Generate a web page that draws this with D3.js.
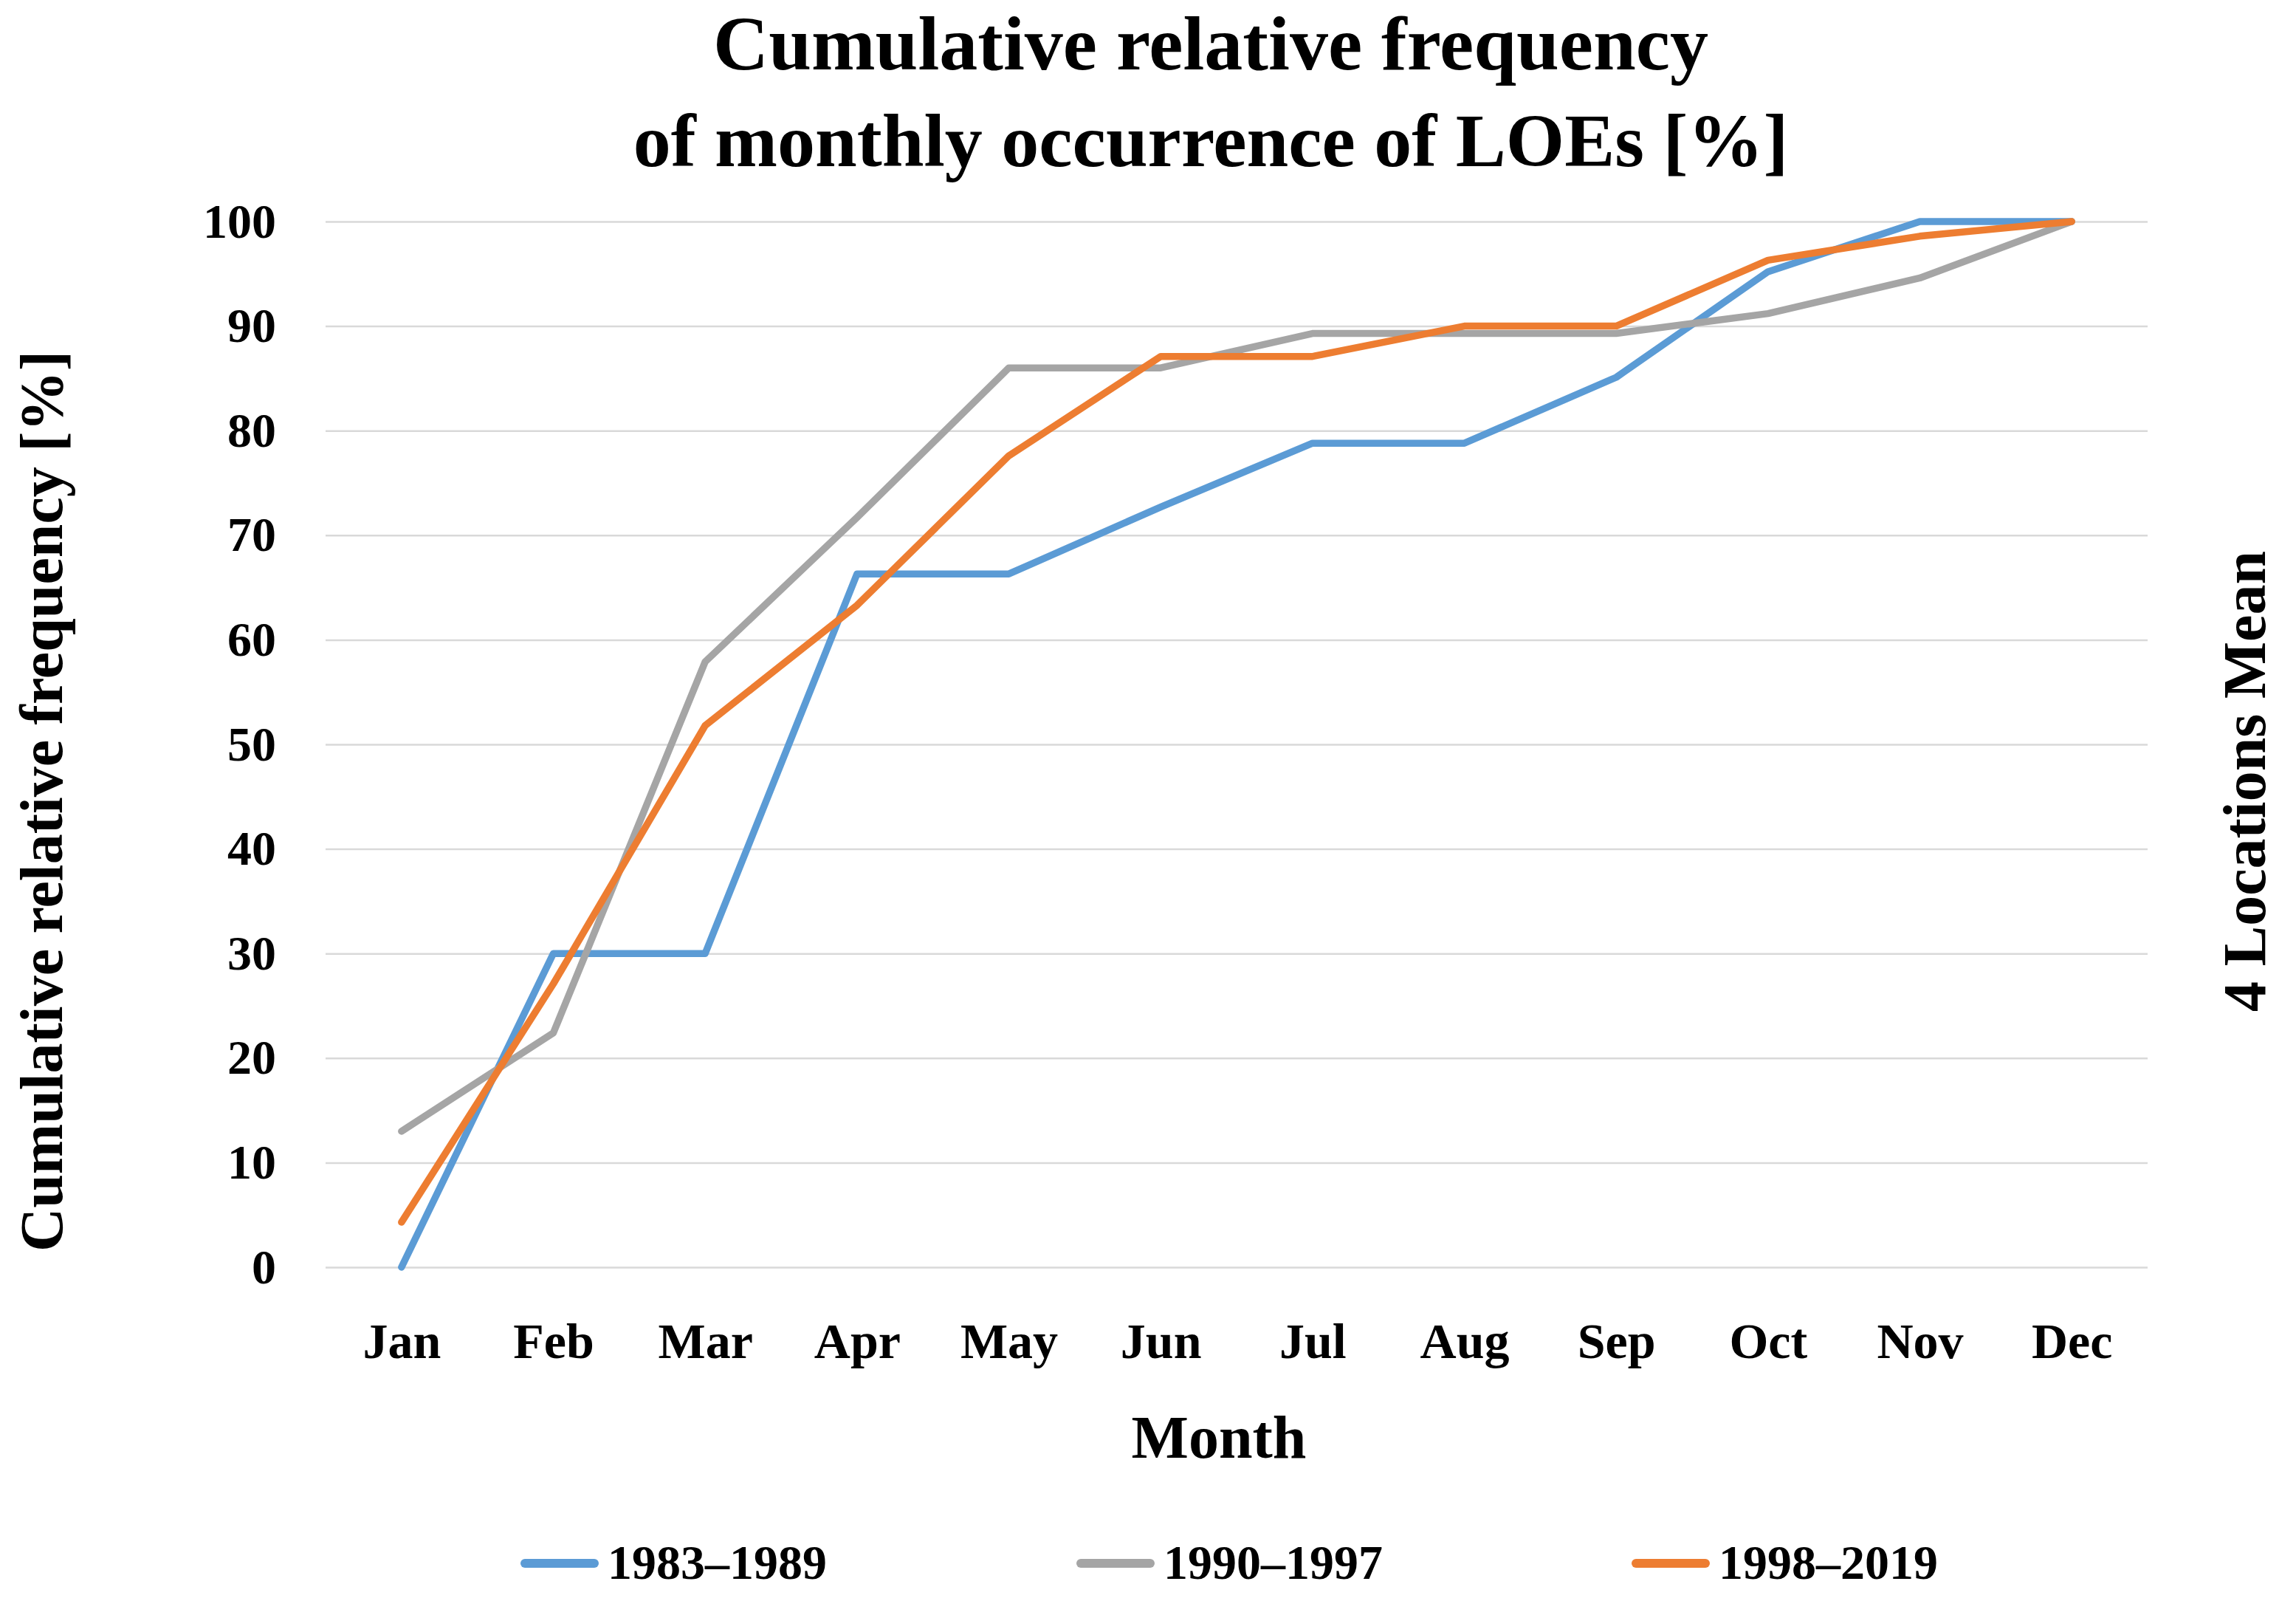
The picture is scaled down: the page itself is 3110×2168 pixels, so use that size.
<!DOCTYPE html>
<html>
<head>
<meta charset="utf-8">
<script src="https://cdn.jsdelivr.net/npm/d3@7"></script>
<style>
  body { margin: 0; background: #fff; overflow: hidden; }
  svg { display: block; }
  text { font-family: "Liberation Serif", "Times New Roman", serif; font-weight: bold; fill: #000; }
</style>
</head>
<body>
<div class="chart"></div>
<script>
// data
var months = ["Jan", "Feb", "Mar", "Apr", "May", "Jun", "Jul", "Aug", "Sep", "Oct", "Nov", "Dec"];
var yTicks = [0, 10, 20, 30, 40, 50, 60, 70, 80, 90, 100];
var seriesNames = ["1983\u20131989", "1990\u20131997", "1998\u20132019"];
var seriesColors = ["#5B9BD5", "#A5A5A5", "#ED7D31"];
var values1983 = [0, 30, 30, 66.3, 66.3, 72.7, 78.8, 78.8, 85.1, 95.2, 100, 100];
var values1990 = [13.0, 22.4, 57.9, 71.7, 86.0, 86.0, 89.3, 89.3, 89.3, 91.2, 94.6, 100];
var values1998 = [4.3, 27.1, 51.8, 63.3, 77.6, 87.1, 87.1, 90.0, 90.0, 96.3, 98.6, 100];

var allSeries = [values1983, values1990, values1998];

var W = 3110, H = 2168;
var margin = {top: 300, right: 201, bottom: 452, left: 441};

var svg = d3.select(".chart").append("svg")
    .attr("width", W)
    .attr("height", H);

var x = d3.scalePoint()
    .domain(months)
    .range([margin.left, W - margin.right])
    .padding(0.5);

var y = d3.scaleLinear()
    .domain([0, 100])
    .range([H - margin.bottom, margin.top]);

// gridlines
svg.append("g")
    .attr("class", "grid")
    .attr("transform", "translate(" + margin.left + ",0)")
    .call(d3.axisLeft(y).tickValues(yTicks).tickSize(-(W - margin.left - margin.right)).tickFormat(""))
    .call(function(g) {
      g.select(".domain").remove();
      g.selectAll("line").attr("stroke", "#D9D9D9").attr("stroke-width", 2.5);
    });

// y labels
svg.append("g")
    .attr("transform", "translate(" + 374 + ",0)")
    .call(d3.axisLeft(y).tickValues(yTicks).tickSize(0).tickPadding(0))
    .call(function(g) {
      g.select(".domain").remove();
      g.selectAll("text")
        .attr("font-size", 66)
        .attr("font-family", null)
        .attr("fill", "#000");
    });

// month labels
svg.append("g")
    .attr("transform", "translate(0," + 1839 + ")")
    .call(d3.axisBottom(x).tickSize(0).tickPadding(0))
    .call(function(g) {
      g.select(".domain").remove();
      g.selectAll("text")
        .attr("font-size", 68)
        .attr("font-family", null)
        .attr("fill", "#000")
        .attr("dy", 0);
    });

// lines
var line = d3.line()
    .x(function(d, i) { return x(months[i]); })
    .y(function(d) { return y(d); });

svg.selectAll(".series")
    .data(allSeries)
    .enter()
    .append("path")
    .attr("class", "series")
    .attr("d", line)
    .attr("fill", "none")
    .attr("stroke", function(d, i) { return seriesColors[i]; })
    .attr("stroke-width", 9.5)
    .attr("stroke-linejoin", "round")
    .attr("stroke-linecap", "round");

// titles
svg.append("text")
    .attr("x", 1640).attr("y", 94)
    .attr("text-anchor", "middle")
    .attr("font-size", 104)
    .text("Cumulative relative frequency");
svg.append("text")
    .attr("x", 1640).attr("y", 225)
    .attr("text-anchor", "middle")
    .attr("font-size", 102)
    .text("of monthly occurrence of LOEs [%]");

svg.append("text")
    .attr("x", 1651).attr("y", 1974)
    .attr("text-anchor", "middle")
    .attr("font-size", 82)
    .text("Month");

svg.append("text")
    .attr("transform", "translate(84,1085) rotate(-90)")
    .attr("text-anchor", "middle")
    .attr("font-size", 82)
    .text("Cumulative relative frequency [%]");

svg.append("text")
    .attr("transform", "translate(3068,1058) rotate(-90)")
    .attr("text-anchor", "middle")
    .attr("font-size", 82)
    .text("4 Locations Mean");

// legend
var legendX = [705, 1458, 2210];
var legend = svg.selectAll(".legend")
    .data(seriesNames)
    .enter()
    .append("g")
    .attr("class", "legend")
    .attr("transform", function(d, i) { return "translate(" + legendX[i] + ",2117)"; });

legend.append("line")
    .attr("x1", 6).attr("x2", 100)
    .attr("y1", 0).attr("y2", 0)
    .attr("stroke", function(d, i) { return seriesColors[i]; })
    .attr("stroke-width", 12)
    .attr("stroke-linecap", "round");

legend.append("text")
    .attr("x", 118).attr("y", 21)
    .attr("font-size", 66)
    .text(function(d) { return d; });
</script>
</body>
</html>
